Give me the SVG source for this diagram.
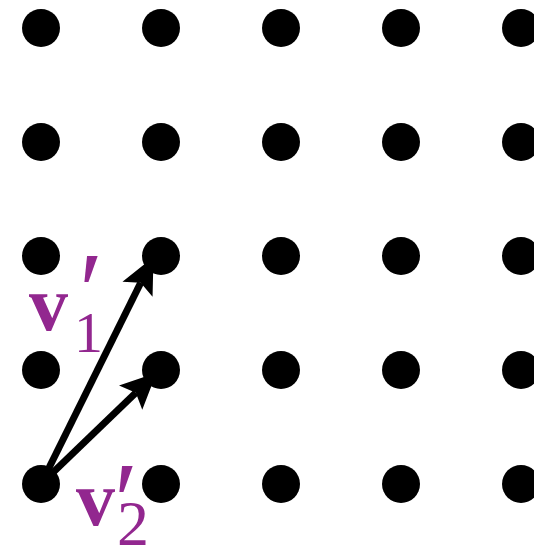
<svg xmlns="http://www.w3.org/2000/svg" width="534" height="548" viewBox="0 0 534 548">
<style>
.dot{fill:#000}
.ar{stroke:#000;stroke-width:7;fill:none}
.lab{fill:#92278f;font-family:"Liberation Serif",serif}
.b{font-weight:bold}
</style>
<defs>
<marker id="ah" markerUnits="userSpaceOnUse" markerWidth="36" markerHeight="34" refX="6" refY="14" orient="auto" viewBox="0 0 30 28">
<path d="M0,0 L30,14 L0,28 L6,14 Z" fill="#000"/>
</marker>
</defs>
<rect width="534" height="548" fill="#fff"/>
<g id="dots">
<circle class="dot" cx="41" cy="28" r="19"/><circle class="dot" cx="161" cy="28" r="19"/><circle class="dot" cx="281" cy="28" r="19"/><circle class="dot" cx="401" cy="28" r="19"/><circle class="dot" cx="521" cy="28" r="19"/>
<circle class="dot" cx="41" cy="142" r="19"/><circle class="dot" cx="161" cy="142" r="19"/><circle class="dot" cx="281" cy="142" r="19"/><circle class="dot" cx="401" cy="142" r="19"/><circle class="dot" cx="521" cy="142" r="19"/>
<circle class="dot" cx="41" cy="256" r="19"/><circle class="dot" cx="161" cy="256" r="19"/><circle class="dot" cx="281" cy="256" r="19"/><circle class="dot" cx="401" cy="256" r="19"/><circle class="dot" cx="521" cy="256" r="19"/>
<circle class="dot" cx="41" cy="370" r="19"/><circle class="dot" cx="161" cy="370" r="19"/><circle class="dot" cx="281" cy="370" r="19"/><circle class="dot" cx="401" cy="370" r="19"/><circle class="dot" cx="521" cy="370" r="19"/>
<circle class="dot" cx="41" cy="484" r="19"/><circle class="dot" cx="161" cy="484" r="19"/><circle class="dot" cx="281" cy="484" r="19"/><circle class="dot" cx="401" cy="484" r="19"/><circle class="dot" cx="521" cy="484" r="19"/>
</g>
<g id="connectors">
<line class="ar" x1="41" y1="484" x2="140.7" y2="282.8" marker-end="url(#ah)"/>
<line class="ar" x1="41" y1="484" x2="135.8" y2="392.7" marker-end="url(#ah)"/>
</g>
<g id="label-v1">
<text class="lab b" x="29" y="330" font-size="78">v</text>
<text class="lab" x="79" y="328" font-size="110">′</text>
<text class="lab" x="74" y="352" font-size="58">1</text>
</g>
<g id="label-v2">
<text class="lab b" x="76" y="525" font-size="78">v</text>
<text class="lab" x="114" y="538" font-size="110">′</text>
<text class="lab" x="117" y="545" font-size="64">2</text>
</g>
</svg>
